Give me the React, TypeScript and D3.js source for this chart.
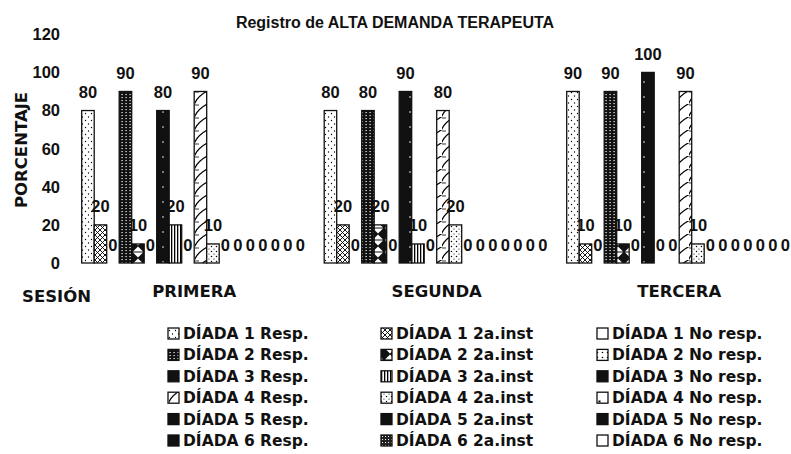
import React from "react";
import * as d3 from "d3";

const title = "Registro de ALTA DEMANDA TERAPEUTA";
const sessions = ["PRIMERA", "SEGUNDA", "TERCERA"];
const dyads = ["DÍADA 1", "DÍADA 2", "DÍADA 3", "DÍADA 4", "DÍADA 5", "DÍADA 6"];
const kinds = ["Resp.", "2a.inst", "No resp."];
// values per dyad, per session (PRIMERA, SEGUNDA, TERCERA)
const respValues = [
  [80, 80, 90],
  [90, 80, 90],
  [80, 90, 100],
  [90, 80, 90],
  [0, 0, 0],
  [0, 0, 0],
];
const instValues = [
  [20, 20, 10],
  [10, 20, 10],
  [20, 10, 0],
  [10, 20, 10],
  [0, 0, 0],
  [0, 0, 0],
];
const noRespValues = [
  [0, 0, 0],
  [0, 0, 0],
  [0, 0, 0],
  [0, 0, 0],
  [0, 0, 0],
  [0, 0, 0],
];
const yTicks = [0, 20, 40, 60, 80, 100, 120];

const valuesByKind = [respValues, instValues, noRespValues];
const seriesKeys: string[] = [];
dyads.forEach((_, d) => kinds.forEach((_, k) => seriesKeys.push(`s${d}_${k}`)));

const NUM_FONT = "'Liberation Sans', Arial, sans-serif";
const TXT_FONT = "'DejaVu Sans', sans-serif";

function Patterns() {
  return (
    <defs>
      <pattern id="s0_0" patternUnits="userSpaceOnUse" width="6" height="7">
        <rect width="6" height="7" fill="#fff" />
        <circle cx="1.5" cy="1.5" r="0.7" fill="#000" />
        <circle cx="4.5" cy="5" r="0.7" fill="#000" />
      </pattern>
      <pattern id="s0_1" patternUnits="userSpaceOnUse" width="5" height="5">
        <rect width="5" height="5" fill="#fff" />
        <path d="M0,0 L5,5 M5,0 L0,5" stroke="#000" strokeWidth="0.9" />
      </pattern>
      <pattern id="s0_2" patternUnits="userSpaceOnUse" width="6" height="6">
        <rect width="6" height="6" fill="#fff" />
      </pattern>
      <pattern id="s1_0" patternUnits="userSpaceOnUse" width="4" height="3">
        <rect width="4" height="3" fill="#111" />
        <rect x="1.5" y="1" width="1.2" height="1.1" fill="#fff" />
      </pattern>
      <pattern id="s1_1" patternUnits="userSpaceOnUse" width="12" height="12">
        <rect width="12" height="12" fill="#111" />
        <path d="M1,0.5 L11,0.5 L6,5.5 Z M1,11.5 L11,11.5 L6,6.5 Z" fill="#fff" />
      </pattern>
      <pattern id="s1_2" patternUnits="userSpaceOnUse" width="5" height="5">
        <rect width="5" height="5" fill="#fff" />
        <circle cx="2.5" cy="2.5" r="0.8" fill="#000" />
      </pattern>
      <pattern id="s2_0" patternUnits="userSpaceOnUse" width="13" height="15">
        <rect width="13" height="15" fill="#111" />
        <circle cx="7" cy="7" r="0.8" fill="#fff" />
      </pattern>
      <pattern id="s2_1" patternUnits="userSpaceOnUse" width="3" height="4">
        <rect width="3" height="4" fill="#fff" />
        <rect x="0" width="1.3" height="4" fill="#000" />
      </pattern>
      <pattern id="s2_2" patternUnits="userSpaceOnUse" width="4" height="4">
        <rect width="4" height="4" fill="#111" />
      </pattern>
      <pattern id="s3_0" patternUnits="userSpaceOnUse" width="13" height="13">
        <rect width="13" height="13" fill="#fff" />
        <path d="M-1,14 Q2,5 14,-1" stroke="#000" strokeWidth="1.1" fill="none" />
        <path d="M-1,1 L4,1" stroke="#000" strokeWidth="0.8" fill="none" />
      </pattern>
      <pattern id="s3_1" patternUnits="userSpaceOnUse" width="5" height="5">
        <rect width="5" height="5" fill="#fff" />
        <circle cx="1.5" cy="1.5" r="0.75" fill="#000" />
        <circle cx="4" cy="4" r="0.6" fill="#000" />
      </pattern>
      <pattern id="s3_2" patternUnits="userSpaceOnUse" width="11" height="11">
        <rect width="11" height="11" fill="#fff" />
        <rect x="4.5" y="4.5" width="2" height="2" fill="#000" />
      </pattern>
      <pattern id="s4_0" patternUnits="userSpaceOnUse" width="4" height="4">
        <rect width="4" height="4" fill="#111" />
      </pattern>
      <pattern id="s4_1" patternUnits="userSpaceOnUse" width="4" height="4">
        <rect width="4" height="4" fill="#111" />
      </pattern>
      <pattern id="s4_2" patternUnits="userSpaceOnUse" width="4" height="4">
        <rect width="4" height="4" fill="#111" />
      </pattern>
      <pattern id="s5_0" patternUnits="userSpaceOnUse" width="4" height="4">
        <rect width="4" height="4" fill="#111" />
      </pattern>
      <pattern id="s5_1" patternUnits="userSpaceOnUse" width="3" height="3">
        <rect width="3" height="3" fill="#222" />
        <rect x="1" y="1" width="1" height="1" fill="#fff" />
      </pattern>
      <pattern id="s5_2" patternUnits="userSpaceOnUse" width="4" height="4">
        <rect width="4" height="4" fill="#fff" />
      </pattern>
    </defs>
  );
}

export default function App() {
  const W = 791;
  const H = 454;

  const y = d3.scaleLinear().domain([0, 120]).range([263, 34.3]);
  const x0 = d3
    .scaleBand<string>()
    .domain(sessions)
    .range([81.7, 81.7 + 3 * 242.5 - 17.5])
    .paddingInner(17.5 / 242.5)
    .paddingOuter(0);
  const x1 = d3.scaleBand<string>().domain(seriesKeys).range([0, x0.bandwidth()]).padding(0);

  const bars: { key: string; s: number; x: number; v: number }[] = [];
  sessions.forEach((sess, si) => {
    dyads.forEach((_, d) => {
      kinds.forEach((_, k) => {
        const key = `s${d}_${k}`;
        bars.push({ key, s: si, x: (x0(sess) ?? 0) + (x1(key) ?? 0), v: valuesByKind[k][d][si] });
      });
    });
  });

  const legendCols = [168, 381, 597];
  const legendRow0 = 339;
  const legendStep = 21.4;

  return (
    <svg
      width={W}
      height={H}
      viewBox={`0 0 ${W} ${H}`}
      style={{ position: "fixed", left: 0, top: 0, background: "#fff" }}
    >
      <Patterns />
      <rect width={W} height={H} fill="#fff" />
      <text
        x={395}
        y={27.5}
        textAnchor="middle"
        fontFamily={NUM_FONT}
        fontWeight="bold"
        fontSize={16}
        fill="#111"
      >
        {title}
      </text>

      {yTicks.map((t) => (
        <text
          key={t}
          x={60}
          y={y(t)}
          dy="0.36em"
          textAnchor="end"
          fontFamily={NUM_FONT}
          fontWeight="bold"
          fontSize={16.5}
          fill="#111"
        >
          {t}
        </text>
      ))}

      <text
        transform={`translate(27,150) rotate(-90)`}
        textAnchor="middle"
        fontFamily={TXT_FONT}
        fontWeight="bold"
        fontSize={16.5}
        fill="#111"
      >
        PORCENTAJE
      </text>

      {bars.map((b, i) => (
        <g key={i}>
          {b.v > 0 && (
            <rect
              x={b.x}
              y={y(b.v)}
              width={x1.bandwidth()}
              height={y(0) - y(b.v)}
              fill={`url(#${b.key})`}
              stroke="#111"
              strokeWidth={1.3}
            />
          )}
        </g>
      ))}
      {bars.map((b, i) => (
        <text
          key={`l${i}`}
          x={b.x + x1.bandwidth() / 2}
          y={y(b.v) - 12.5}
          textAnchor="middle"
          fontFamily={NUM_FONT}
          fontWeight="bold"
          fontSize={16.5}
          fill="#111"
        >
          {b.v}
        </text>
      ))}

      <text x={22} y={301.5} fontFamily={TXT_FONT} fontWeight="bold" fontSize={16.5} fill="#111">
        SESIÓN
      </text>
      {sessions.map((s) => (
        <text
          key={s}
          x={(x0(s) ?? 0) + x0.bandwidth() / 2}
          y={296.5}
          textAnchor="middle"
          fontFamily={TXT_FONT}
          fontWeight="bold"
          fontSize={16.5}
          fill="#111"
        >
          {s}
        </text>
      ))}

      {kinds.map((k, ki) =>
        dyads.map((d, di) => {
          const lx = legendCols[ki];
          const ly = legendRow0 + di * legendStep;
          return (
            <g key={`${ki}-${di}`}>
              <rect
                x={lx}
                y={ly - 11}
                width={11}
                height={11}
                fill={`url(#s${di}_${ki})`}
                stroke="#111"
                strokeWidth={1.3}
              />
              <text
                x={lx + 15}
                y={ly}
                fontFamily={TXT_FONT}
                fontWeight="bold"
                fontSize={15.5}
                fill="#111"
              >
                {`${d} ${k}`}
              </text>
            </g>
          );
        })
      )}
    </svg>
  );
}
